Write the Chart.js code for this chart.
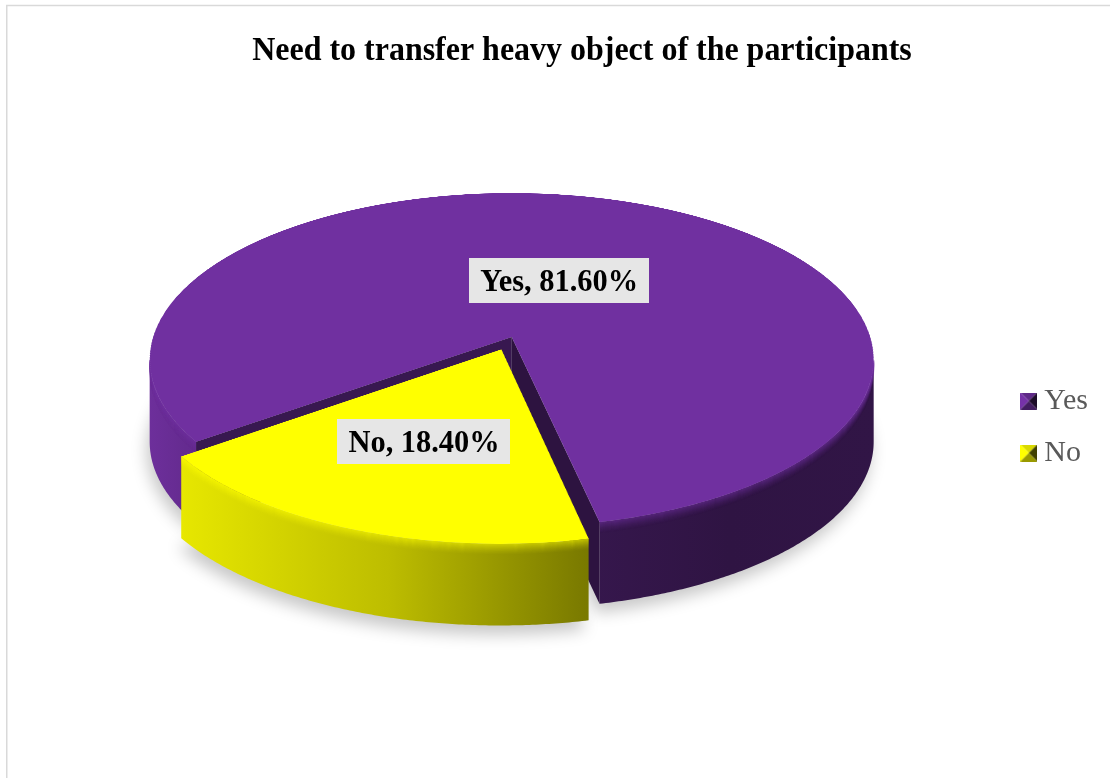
<!DOCTYPE html>
<html>
<head>
<meta charset="utf-8">
<script src="https://cdn.jsdelivr.net/npm/chart.js@4.4.1/dist/chart.umd.min.js"></script>
<style>
  html, body { margin: 0; padding: 0; background: #fff; overflow: hidden; }
  #wrap { width: 1110px; height: 778px; position: relative; }
</style>
</head>
<body>
<div id="wrap"><canvas id="c" width="1110" height="778"></canvas></div>
<script>
// ---- data ----
const chartTitle = 'Need to transfer heavy object of the participants';
const categories = ['Yes', 'No'];
const shares = [81.6, 18.4];

// ---- styling ----
const sliceColors = ['#7030A0', '#FFFF00'];
const pullOut = [0, 0.08];           // exploded distance, fraction of radius
const labelRadius = [0.39, 0.55];    // data label anchor, fraction of radius
// camera for the 3D look: vertical squash, perspective strength, wall height, vertical shift
const VIEW = { tilt: 0.4613, persp: -0.1377, depth: 0.226, lift: -90 };
// brightness of the outer wall across the pie, left to right
const WALL_SHADE = [[0, 0.97], [0.05, 0.9], [0.33, 0.74], [0.6, 0.48], [0.8, 0.42], [1, 0.44]];
const SERIF = '"Liberation Serif", "Times New Roman", serif';

function hexRgb(h) {
  const n = parseInt(h.slice(1), 16);
  return [(n >> 16) & 255, (n >> 8) & 255, n & 255];
}
function shade(h, f) {
  const cl = x => Math.max(0, Math.min(255, Math.round(x * f)));
  const [r, g, b] = hexRgb(h);
  return `rgb(${cl(r)},${cl(g)},${cl(b)})`;
}

// small bevelled square used as legend symbol
function legendMarker(hex) {
  const s = 17, m = s / 2;
  const cv = document.createElement('canvas');
  cv.width = cv.height = s;
  const g = cv.getContext('2d');
  const tri = (pts, col) => {
    g.beginPath(); g.moveTo(pts[0][0], pts[0][1]);
    for (let i = 1; i < pts.length; i++) g.lineTo(pts[i][0], pts[i][1]);
    g.closePath(); g.fillStyle = col; g.fill();
  };
  tri([[0, 0], [s, 0], [m, m]], shade(hex, 0.85));
  tri([[0, 0], [0, s], [m, m]], shade(hex, 1.05));
  tri([[s, 0], [s, s], [m, m]], shade(hex, 0.25));
  tri([[0, s], [s, s], [m, m]], shade(hex, 0.6));
  return cv;
}
const markers = sliceColors.map(legendMarker);

// perspective view of the flat pie computed by Chart.js
function makeView(arc) {
  const R = arc.outerRadius, c = VIEW.persp;
  const A = R * Math.sqrt(1 - c * c);
  const B = R * VIEW.tilt * (1 - c * c);
  const px = arc.x, py = arc.y + VIEW.lift;
  return {
    R, A, B, c, px, py, D: R * VIEW.depth,
    pt(u, v) { const w = 1 + c * v; return [px + A * u / w, py + B * v / w]; }
  };
}

function pullVec(arc, i) {
  const mid = (arc.startAngle + arc.endAngle) / 2;
  return [pullOut[i] * Math.cos(mid), pullOut[i] * Math.sin(mid)];
}

function visibleParts(s, e, th0) {
  const parts = [];
  for (let k = -1; k <= 2; k++) {
    const lo = th0 + 2 * Math.PI * k, hi = Math.PI - th0 + 2 * Math.PI * k;
    const a = Math.max(s, lo), b = Math.min(e, hi);
    if (b > a) parts.push([a, b]);
  }
  return parts;
}

function rimPoints(V, ex, ey, a0, a1, dy) {
  const n = Math.max(8, Math.ceil(Math.abs(a1 - a0) / 0.008));
  const pts = [];
  for (let k = 0; k <= n; k++) {
    const t = a0 + (a1 - a0) * k / n;
    const p = V.pt(Math.cos(t) + ex, Math.sin(t) + ey);
    pts.push([p[0], p[1] + dy]);
  }
  return pts;
}

function tracePoly(ctx, pts) {
  ctx.beginPath();
  ctx.moveTo(pts[0][0], pts[0][1]);
  for (let i = 1; i < pts.length; i++) ctx.lineTo(pts[i][0], pts[i][1]);
  ctx.closePath();
}

const offscreens = [];
const FLAT_R = 560;
function flatSlice(arc, i) {
  if (!offscreens[i]) {
    const cv = document.createElement('canvas');
    cv.width = cv.height = Math.ceil(FLAT_R * 2.5);
    offscreens[i] = cv;
  }
  const off = offscreens[i];
  const g = off.getContext('2d');
  g.setTransform(1, 0, 0, 1, 0, 0);
  g.clearRect(0, 0, off.width, off.height);
  const s = FLAT_R / arc.outerRadius, oc = off.width / 2;
  const [ex, ey] = pullVec(arc, i);
  g.setTransform(s, 0, 0, s,
    oc - s * arc.x + FLAT_R * ex,
    oc - s * arc.y + FLAT_R * ey);
  arc.draw(g);
  return off;
}

// map the flat slice onto the tilted top face, one screen row at a time
function warpTop(ctx, off, V) {
  const oc = off.width / 2, span = 1.18;
  const y0 = Math.floor(V.py - V.B * 1.4), y1 = Math.ceil(V.py + V.B * 1.6);
  for (let Y = y0; Y < y1; Y++) {
    const t = (Y + 0.5 - V.py) / V.B;
    const den = 1 - V.c * t;
    if (den <= 0) continue;
    const v = t / den;
    if (v < -1.18 || v > 1.18) continue;
    const w = 1 + V.c * v;
    const sh = FLAT_R / (V.B * den * den);
    const sy = oc + v * FLAT_R - sh / 2;
    const dw = 2 * span * V.A / w;
    ctx.drawImage(off, oc - span * FLAT_R, sy, 2 * span * FLAT_R, sh, V.px - dw / 2, Y, dw, 1);
  }
}

const pie3d = {
  id: 'pie3d',
  beforeDraw(chart) {
    const ctx = chart.ctx;
    ctx.save();
    ctx.fillStyle = '#ffffff';
    ctx.fillRect(0, 0, chart.width, chart.height);
    ctx.strokeStyle = '#d9d9d9';
    ctx.lineWidth = 1.5;
    ctx.strokeRect(6.75, 5.5, chart.width + 100, chart.height + 100);
    ctx.restore();
  },
  beforeDatasetsDraw(chart) {
    const ctx = chart.ctx;
    const arcs = chart.getDatasetMeta(0).data;
    const V = makeView(arcs[0]);
    const th0 = Math.asin(-V.c);
    const order = arcs.map((a, i) => i).sort((a, b) => pullOut[a] - pullOut[b]);

    // soft ground shadow under every slice
    ctx.save();
    ctx.shadowColor = 'rgba(0,0,0,0.22)';
    ctx.shadowBlur = 16;
    ctx.shadowOffsetX = 5000 - 3;
    ctx.shadowOffsetY = 9;
    ctx.fillStyle = '#000';
    order.forEach(i => {
      const arc = arcs[i];
      const [ex, ey] = pullVec(arc, i);
      const c0 = V.pt(ex, ey);
      const pts = [[c0[0], c0[1] + V.D]].concat(rimPoints(V, ex, ey, arc.startAngle, arc.endAngle, V.D));
      tracePoly(ctx, pts.map(p => [p[0] - 5000, p[1]]));
      ctx.fill();
    });
    ctx.restore();

    order.forEach(i => {
      const arc = arcs[i];
      const base = sliceColors[i];
      const [ex, ey] = pullVec(arc, i);
      ctx.save();

      // outer curved wall
      const grad = ctx.createLinearGradient(V.px - V.R, 0, V.px + V.R, 0);
      WALL_SHADE.forEach(([p, f]) => grad.addColorStop(p, shade(base, f)));
      const parts = visibleParts(arc.startAngle, arc.endAngle, th0);
      parts.forEach(([a, b]) => {
        const top = rimPoints(V, ex, ey, a, b, 0);
        const bot = rimPoints(V, ex, ey, b, a, V.D);
        tracePoly(ctx, top.concat(bot));
        ctx.fillStyle = grad;
        ctx.fill();
        // soften the edge where the wall meets the top face
        for (let k = 0; k < 12; k++) {
          const line = rimPoints(V, ex, ey, a, b, k);
          ctx.beginPath();
          ctx.moveTo(line[0][0], line[0][1]);
          for (let j = 1; j < line.length; j++) ctx.lineTo(line[j][0], line[j][1]);
          ctx.strokeStyle = base;
          ctx.globalAlpha = 0.5 * Math.pow(1 - k / 12, 1.6);
          ctx.lineWidth = 1.3;
          ctx.stroke();
        }
        ctx.globalAlpha = 1;
      });

      // radial cut faces that face the viewer
      const c0 = V.pt(ex, ey);
      const faces = [];
      if (Math.cos(arc.startAngle) < 0) faces.push([arc.startAngle, 0.5]);
      if (Math.cos(arc.endAngle) > 0) faces.push([arc.endAngle, 0.4]);
      faces.forEach(([ang, f]) => {
        const r0 = V.pt(Math.cos(ang) + ex, Math.sin(ang) + ey);
        tracePoly(ctx, [c0, r0, [r0[0], r0[1] + V.D], [c0[0], c0[1] + V.D]]);
        ctx.fillStyle = shade(base, f);
        ctx.fill();
      });

      // top face, drawn by the arc element itself
      warpTop(ctx, flatSlice(arc, i), V);
      ctx.restore();
    });
    return false;
  },
  afterDraw(chart) {
    const ctx = chart.ctx;
    const arcs = chart.getDatasetMeta(0).data;
    const V = makeView(arcs[0]);

    // data labels
    const size = 32, squeeze = 0.95;
    arcs.forEach((arc, i) => {
      const mid = (arc.startAngle + arc.endAngle) / 2;
      const [ex, ey] = pullVec(arc, i);
      const [x, y] = V.pt(labelRadius[i] * Math.cos(mid) + ex, labelRadius[i] * Math.sin(mid) + ey);
      const text = `${categories[i]}, ${shares[i].toFixed(2)}%`;
      ctx.save();
      ctx.font = `bold ${size}px ${SERIF}`;
      const tw = ctx.measureText(text).width * squeeze;
      const bw = tw + 22, bh = 45;
      ctx.fillStyle = '#e6e6e6';
      ctx.fillRect(Math.round(x - bw / 2), Math.round(y - bh / 2), Math.round(bw), bh);
      ctx.translate(x, y + size * 0.33);
      ctx.scale(squeeze, 1);
      ctx.fillStyle = '#000';
      ctx.textAlign = 'center';
      ctx.textBaseline = 'alphabetic';
      ctx.fillText(text, 0, 0);
      ctx.restore();
    });

    // chart title
    ctx.save();
    ctx.font = `bold 34px ${SERIF}`;
    ctx.translate(582, 60);
    ctx.scale(0.94, 1);
    ctx.fillStyle = '#000';
    ctx.textAlign = 'center';
    ctx.textBaseline = 'alphabetic';
    ctx.fillText(chartTitle, 0, 0);
    ctx.restore();
  }
};

Chart.defaults.font.family = SERIF;

new Chart(document.getElementById('c'), {
  type: 'pie',
  data: {
    labels: categories,
    datasets: [{
      data: shares,
      backgroundColor: sliceColors,
      borderWidth: 0,
      radius: 362
    }]
  },
  options: {
    responsive: false,
    devicePixelRatio: 1,
    animation: false,
    rotation: 234,
    events: [],
    layout: { padding: { top: 76, bottom: 0, left: 17, right: 12 } },
    plugins: {
      title: { display: false },
      tooltip: { enabled: false },
      legend: {
        position: 'right',
        align: 'center',
        labels: {
          usePointStyle: true,
          pointStyleWidth: 1,
          boxHeight: 17,
          padding: 22,
          color: '#595959',
          font: { family: SERIF, size: 30 },
          generateLabels(chart) {
            const items = Chart.overrides.pie.plugins.legend.labels.generateLabels(chart);
            return items.map((it, i) => Object.assign(it, { pointStyle: markers[i], fontColor: '#595959' }));
          }
        }
      }
    }
  },
  plugins: [pie3d]
});
</script>
</body>
</html>
